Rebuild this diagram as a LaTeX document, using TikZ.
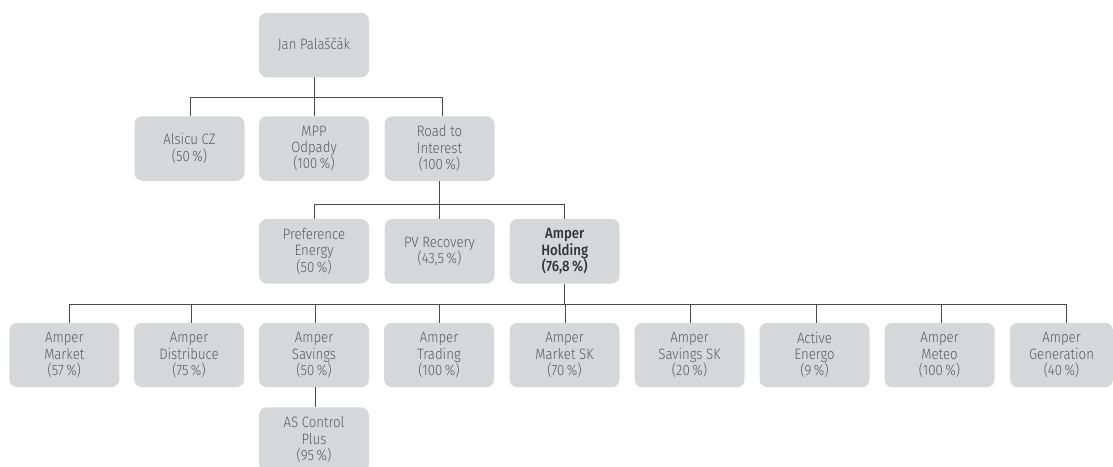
\documentclass[tikz,border=0pt]{standalone}
\usepackage{fontspec}
\setmainfont{Fira Sans}[UprightFont=* Light, BoldFont=* Medium, FakeStretch=0.88]
\definecolor{boxgray}{HTML}{D6D7D9}
\definecolor{textgray}{HTML}{5A5B5D}
\definecolor{linegray}{HTML}{4A4A4A}
\tikzset{
  orgbox/.style={rectangle, rounded corners=8pt, fill=boxgray, minimum width=110pt,
    minimum height=64.5pt, inner sep=0pt, align=center, text=textgray,
    font=\fontsize{15}{16.3}\selectfont},
  conn/.style={draw=linegray, line width=1pt}
}
\begin{document}
\begin{tikzpicture}[x=1pt,y=-1pt]
\useasboundingbox (0,0) rectangle (1113,466);
\clip (0,0) rectangle (1113,466);
% nodes
\node[orgbox] (jan) at (314,45) {Jan Palaščák};
\node[orgbox] (alsicu) at (189.5,148.5) {Alsicu CZ\\(50\,\%)};
\node[orgbox] (mpp) at (314,148.5) {MPP\\Odpady\\(100\,\%)};
\node[orgbox] (road) at (439.5,148.5) {Road to\\Interest\\(100\,\%)};
\node[orgbox] (pref) at (314,251.3) {Preference\\Energy\\(50\,\%)};
\node[orgbox] (pv) at (439.5,251.3) {PV Recovery\\(43,5\,\%)};
\node[orgbox, text=black!80, font=\fontsize{15}{16.3}\selectfont\bfseries] (hold) at (564.7,251.3) {Amper\\Holding\\(76,8\,\%)};
\node[orgbox] (m1) at (64.3,355) {Amper\\Market\\(57\,\%)};
\node[orgbox] (m2) at (189,355) {Amper\\Distribuce\\(75\,\%)};
\node[orgbox] (m3) at (314,355) {Amper\\Savings\\(50\,\%)};
\node[orgbox] (m4) at (439,355) {Amper\\Trading\\(100\,\%)};
\node[orgbox] (m5) at (564.5,355) {Amper\\Market SK\\(70\,\%)};
\node[orgbox] (m6) at (689.5,355) {Amper\\Savings SK\\(20\,\%)};
\node[orgbox] (m7) at (814.5,355) {Active\\Energo\\(9\,\%)};
\node[orgbox] (m8) at (939.5,355) {Amper\\Meteo\\(100\,\%)};
\node[orgbox, minimum width=103pt] (m9) at (1061.5,355) {Amper\\Generation\\(40\,\%)};
\node[orgbox] (asc) at (314,439.5) {AS Control\\Plus\\(95\,\%)};
% bus coordinates
\coordinate (b1) at (0,97.7);
\coordinate (b2) at (0,204);
\coordinate (b3) at (0,304.3);
% level 1
\draw[conn] (jan.south) -- (jan.south |- b1);
\draw[conn] ([xshift=1pt]alsicu.north) -- ([xshift=1pt]alsicu.north |- b1) -| ([xshift=3pt]road.north);
\draw[conn] (mpp.north) -- (mpp.north |- b1);
% level 2
\draw[conn] (road.south) -- (road.south |- b2);
\draw[conn] (pref.north) -- (pref.north |- b2) -| (hold.north);
\draw[conn] (pv.north) -- (pv.north |- b2);
% level 3
\draw[conn] (hold.south) -- (hold.south |- b3);
\draw[conn] ([xshift=5pt]m1.north) -- ([xshift=5pt]m1.north |- b3) -| ([xshift=5.2pt]m9.north);
\draw[conn] ([xshift=2.5pt]m2.north) -- ([xshift=2.5pt]m2.north |- b3);
\draw[conn] ([xshift=1.4pt]m3.north) -- ([xshift=1.4pt]m3.north |- b3);
\draw[conn] (m4.north) -- (m4.north |- b3);
\draw[conn] ([xshift=1pt]m5.north) -- ([xshift=1pt]m5.north |- b3);
\draw[conn] ([xshift=1pt]m6.north) -- ([xshift=1pt]m6.north |- b3);
\draw[conn] ([xshift=2pt]m7.north) -- ([xshift=2pt]m7.north |- b3);
\draw[conn] ([xshift=1.8pt]m8.north) -- ([xshift=1.8pt]m8.north |- b3);
% level 4
\draw[conn] ([xshift=1.5pt]m3.south) -- ([xshift=1.5pt]asc.north);
\end{tikzpicture}
\end{document}
